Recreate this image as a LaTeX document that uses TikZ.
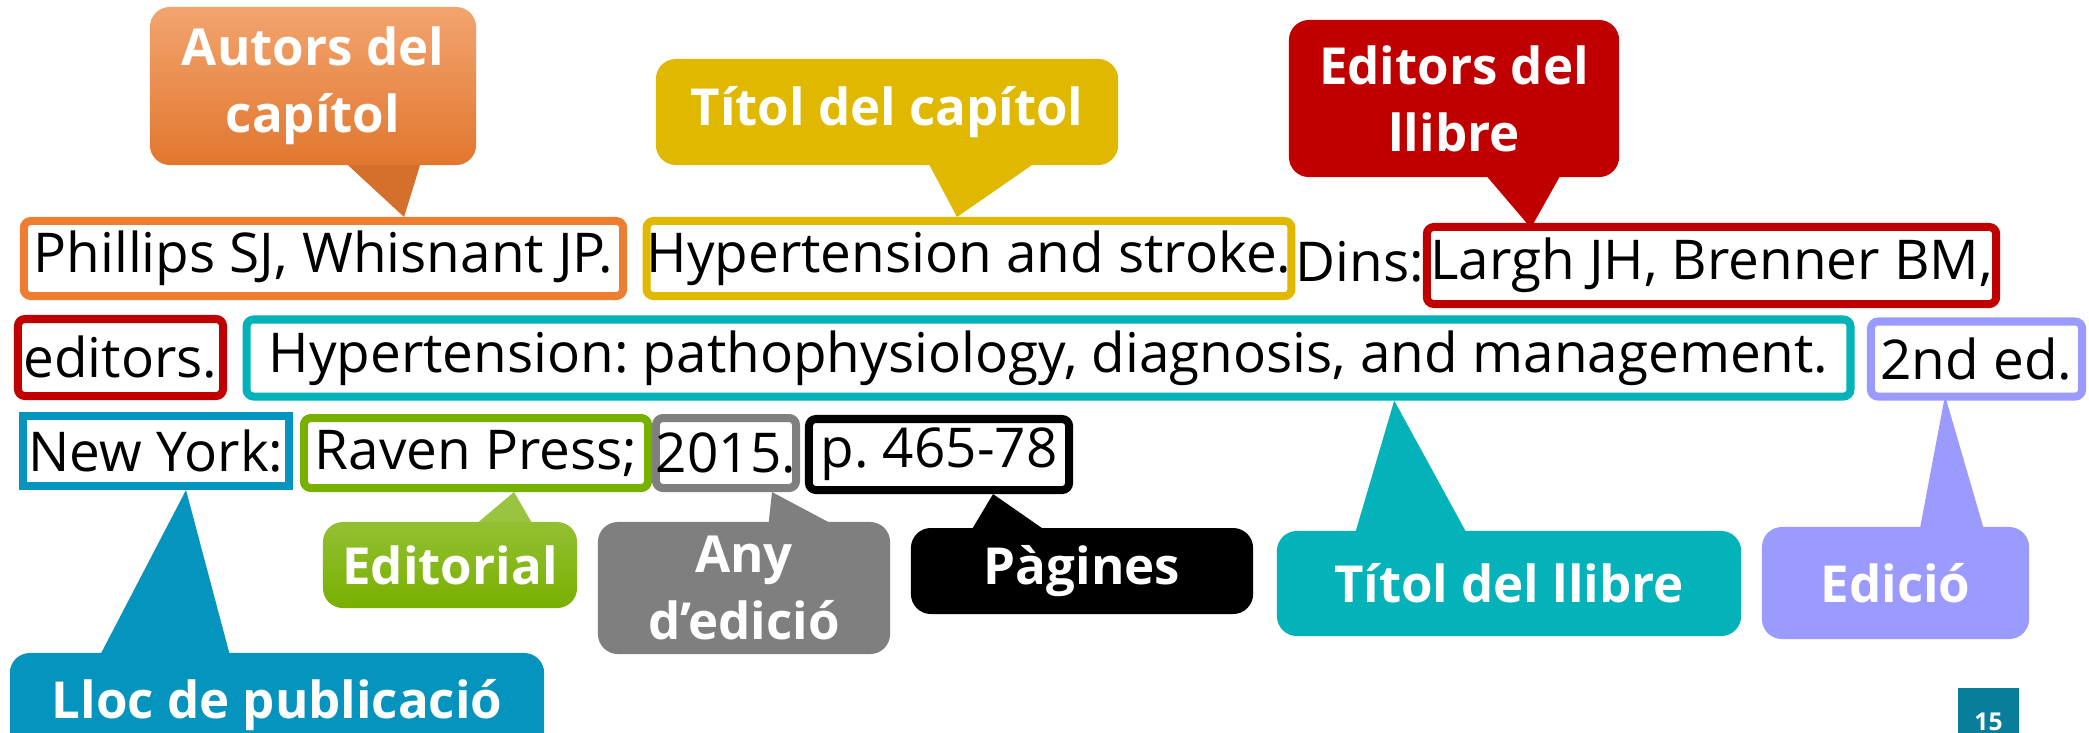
\documentclass[tikz,border=0pt]{standalone}
\usepackage{fontspec}
\setmainfont{Open Sans}
\usetikzlibrary{backgrounds}
\frenchspacing

\definecolor{autorsorange}{RGB}{237,125,49}
\definecolor{titolyellow}{RGB}{224,184,0}
\definecolor{editorsred}{RGB}{192,0,0}
\definecolor{llibreteal}{RGB}{4,178,186}
\definecolor{ediciolilac}{RGB}{155,155,255}
\definecolor{llocblue}{RGB}{4,148,190}
\definecolor{editorialgreen}{RGB}{120,176,0}
\definecolor{anygray}{RGB}{127,127,127}
\definecolor{pagenumteal}{RGB}{8,126,154}

\begin{document}
\begin{tikzpicture}[x=0.01cm, y=-0.01cm,
      refbox/.style={rectangle, draw, line width=0.08cm, rounded corners=2pt, fill=white, inner sep=0pt, font=\fontsize{15.6}{18}\selectfont},
      callout/.style={rectangle, rounded corners=0.2cm, inner sep=0pt, align=center, text=white, font=\fontsize{14.5}{19}\selectfont\bfseries}
  ]
  \useasboundingbox (0,0) rectangle (2089,732);

  % Reference (three lines)
  \node[refbox, draw=autorsorange, minimum width=5.99cm, minimum height=0.75cm] (phillips) at (323.5,258.5) {Phillips SJ, Whisnant JP.};
  \node[refbox, draw=titolyellow, minimum width=6.38cm, minimum height=0.75cm] (stroke) at (969,258.5) {Hypertension and stroke.};
  \node[font=\fontsize{15.6}{18}\selectfont] (dins) at (1360,262) {Dins:};
  \node[refbox, draw=editorsred, minimum width=5.69cm, minimum height=0.77cm] (largh) at (1711.5,265.5) {Largh JH, Brenner BM,};

  \node[refbox, draw=editorsred, minimum width=2.05cm, minimum height=0.77cm] (editors) at (120.5,357.5) {editors.};
  \node[refbox, draw=llibreteal, minimum width=16.03cm, minimum height=0.77cm] (book) at (1048.5,358) {Hypertension: pathophysiology, diagnosis, and management.};
  \node[refbox, draw=ediciolilac, minimum width=2.11cm, minimum height=0.75cm] (edition) at (1976.5,359) {2nd ed.};

  \node[refbox, draw=llocblue, rounded corners=0pt, minimum width=2.66cm, minimum height=0.70cm] (newyork) at (156,451) {New York:};
  \node[refbox, draw=editorialgreen, minimum width=3.44cm, minimum height=0.70cm] (raven) at (476,453) {Raven Press;};
  \node[refbox, draw=anygray, minimum width=1.36cm, minimum height=0.70cm] (year) at (726,453) {2015.};
  \node[refbox, draw=black, minimum width=2.60cm, minimum height=0.71cm] (pages) at (939,454.5) {p. 465-78};

  % Callouts
  \node[callout, top color=autorsorange!70!white, bottom color=autorsorange!95!black, minimum width=3.26cm, minimum height=1.58cm] (autors) at (313,86) {Autors del\\capítol};
  \node[callout, fill=titolyellow, minimum width=4.62cm, minimum height=1.06cm] (titolcap) at (887,112) {Títol del capítol};
  \node[callout, fill=editorsred, minimum width=3.30cm, minimum height=1.57cm] (editlib) at (1454,98.5) {Editors del\\llibre};

  \node[callout, fill=llocblue, minimum width=5.34cm, minimum height=1.04cm] (lloc) at (277,705) {Lloc de publicació};
  \node[callout, top color=editorialgreen!80!white, bottom color=editorialgreen, minimum width=2.54cm, minimum height=0.86cm] (editorial) at (450,565) {Editorial};
  \node[callout, fill=anygray, minimum width=2.92cm, minimum height=1.32cm] (anyed) at (744,588) {Any\\d’edició};
  \node[callout, fill=black, minimum width=3.42cm, minimum height=0.86cm] (pagines) at (1082,571) {Pàgines};
  \node[callout, fill=llibreteal, minimum width=4.64cm, minimum height=1.05cm] (titollib) at (1509,583.5) {Títol del llibre};
  \node[callout, fill=ediciolilac, minimum width=2.67cm, minimum height=1.12cm] (edicio) at (1895.5,583) {Edició};

  \node[callout, fill=pagenumteal, rounded corners=0pt, minimum width=0.61cm, minimum height=0.64cm, font=\fontsize{7}{8}\selectfont\bfseries] (pagenum) at (1988.5,720) {\raisebox{-1.6ex}{15}};

  % Tails
  \begin{pgfonlayer}{background}
  \fill[autorsorange!90!black] ([xshift=0.28cm,yshift=2pt]autors.south) -- ([xshift=0.805cm]phillips.north) -- ([xshift=1.09cm,yshift=2pt]autors.south) -- cycle;
  \fill[titolyellow] ([xshift=0.39cm,yshift=2pt]titolcap.south) -- ([xshift=-0.12cm]stroke.north) -- ([xshift=1.54cm,yshift=2pt]titolcap.south) -- cycle;
  \fill[editorsred] ([xshift=0.28cm,yshift=2pt]editlib.south) -- ([xshift=-1.805cm,yshift=-0.05cm]largh.north) -- ([xshift=1.09cm,yshift=2pt]editlib.south) -- cycle;
  \fill[llocblue] ([xshift=-1.79cm,yshift=-2pt]lloc.north) -- ([xshift=0.30cm]newyork.south) -- ([xshift=-0.46cm,yshift=-2pt]lloc.north) -- cycle;
  \fill[editorialgreen!75!white] ([xshift=0.21cm,yshift=-2pt]editorial.north) -- ([xshift=0.38cm]raven.south) -- ([xshift=0.85cm,yshift=-2pt]editorial.north) -- cycle;
  \fill[anygray] ([xshift=0.24cm,yshift=-2pt]anyed.north) -- ([xshift=0.46cm]year.south) -- ([xshift=0.96cm,yshift=-2pt]anyed.north) -- cycle;
  \fill[black] ([xshift=-1.13cm,yshift=-2pt]pagines.north) -- ([xshift=0.54cm]pages.south) -- ([xshift=-0.31cm,yshift=-2pt]pagines.north) -- cycle;
  \fill[llibreteal] ([xshift=-1.55cm,yshift=-2pt]titollib.north) -- ([xshift=3.455cm]book.south) -- ([xshift=-0.40cm,yshift=-2pt]titollib.north) -- cycle;
  \fill[ediciolilac] ([xshift=0.235cm,yshift=-2pt]edicio.north) -- ([xshift=-0.315cm,yshift=0.05cm]edition.south) -- ([xshift=0.895cm,yshift=-2pt]edicio.north) -- cycle;
  \end{pgfonlayer}

\end{tikzpicture}
\end{document}
